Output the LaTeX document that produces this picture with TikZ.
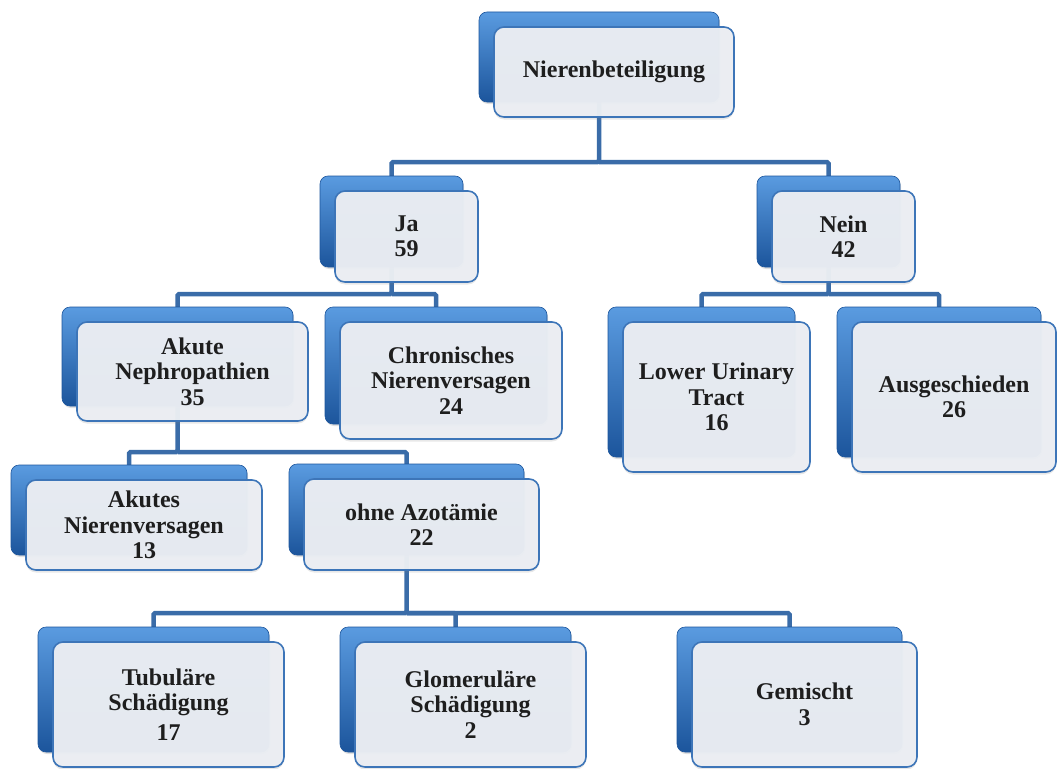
\documentclass[tikz,border=0pt]{standalone}
\usepackage{fontspec}
\setmainfont{Liberation Serif}
\usetikzlibrary{shadows,calc}
\definecolor{conncol}{HTML}{3A6CA8}
\definecolor{backtop}{HTML}{5A9BE0}
\definecolor{backmid}{HTML}{2D6CBC}
\definecolor{backbot}{HTML}{1C559C}
\definecolor{frontfill}{HTML}{EBEEF3}
\definecolor{frontline}{HTML}{3D75B8}
\definecolor{txtcol}{HTML}{1E1E1E}
\pgfdeclarelayer{bg}
\pgfsetlayers{bg,main}
\tikzset{
  backbox/.style={rectangle, rounded corners=8pt, anchor=north west, outer sep=0pt, inner sep=0pt,
    top color=backtop, middle color=backmid, bottom color=backbot, draw=backbot, line width=0.6pt,
    drop shadow={shadow xshift=1pt, shadow yshift=-2pt, opacity=0.25}},
  frontbox/.style={rectangle, rounded corners=10pt, anchor=north west, outer sep=0pt, inner sep=2pt,
    fill=frontfill, fill opacity=0.97, text opacity=1, draw=frontline, line width=1.6pt,
    align=center, text=txtcol, font=\bfseries\fontsize{24}{25.5}\selectfont,
    drop shadow={shadow xshift=0pt, shadow yshift=-2.5pt, opacity=0.18}},
  conn/.style={draw=conncol, line width=4.5pt, rounded corners=1.5pt}
}
\newcommand\obox[6]{%
  \node[backbox, minimum width=#4pt, minimum height=#5pt] (#1B) at (#2pt,-#3pt) {};
  \node[frontbox, minimum width=#4pt, minimum height=#5pt] (#1) at (#2pt+15pt,-#3pt-15pt) {#6};
}
\begin{document}
\begin{tikzpicture}[x=1pt,y=1pt]
\useasboundingbox (0,0) rectangle (1057,-768);
\obox{nb}{479}{12}{240}{90}{Nierenbeteiligung}
\obox{ja}{320}{176}{143}{91}{Ja\\59}
\obox{nein}{757}{176}{143}{91}{Nein\\42}
\obox{ak}{62}{307}{231}{99}{Akute\\Nephropathien\\35}
\obox{chr}{325}{307}{222}{117}{Chronisches\\Nierenversagen\\24}
\obox{lut}{608}{307}{187}{150}{Lower Urinary\\Tract\\16}
\obox{aus}{837}{307}{204}{150}{Ausgeschieden\\26}
\obox{akn}{11}{465}{236}{90}{Akutes\\Nierenversagen\\13}
\obox{ohne}{289}{464}{235}{91}{ohne Azotämie\\22}
\obox{tub}{38}{627}{231}{125}{Tubuläre\\Schädigung\\[4pt]17}
\obox{glom}{340}{627}{231}{125}{Glomeruläre\\Schädigung\\2}
\obox{gem}{677}{627}{225}{125}{Gemischt\\3}
\coordinate (b1) at (0,-162);
\coordinate (b2) at (0,-294);
\coordinate (b3) at (0,-452);
\coordinate (b4) at (0,-613);
\begin{pgfonlayer}{bg}
\draw[conn] (nbB.south) -- (nbB.south |- b1) -| (jaB.north);
\draw[conn] (nbB.south |- b1) -| (neinB.north);
\draw[conn] (jaB.south) -- (jaB.south |- b2) -| (akB.north);
\draw[conn] (jaB.south |- b2) -| (chrB.north);
\draw[conn] (neinB.south) -- (neinB.south |- b2) -| (lutB.north);
\draw[conn] (neinB.south |- b2) -| (ausB.north);
\draw[conn] (akB.south) -- (akB.south |- b3) -| (aknB.north);
\draw[conn] (akB.south |- b3) -| (ohneB.north);
\draw[conn] (ohneB.south) -- (ohneB.south |- b4) -| (tubB.north);
\draw[conn] (ohneB.south |- b4) -| (glomB.north);
\draw[conn] (ohneB.south |- b4) -| (gemB.north);
\end{pgfonlayer}
\end{tikzpicture}
\end{document}
